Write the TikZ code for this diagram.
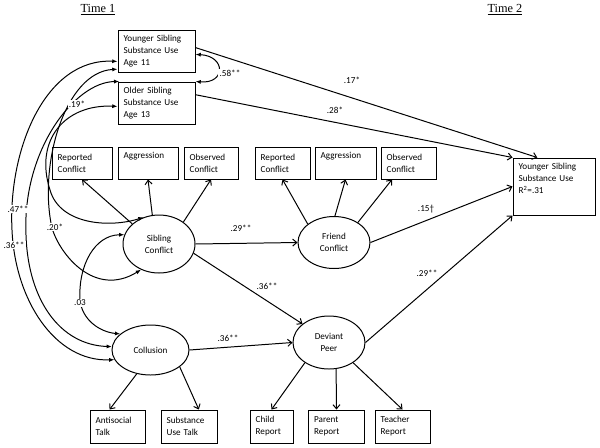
\documentclass[tikz,border=0pt]{standalone}
\usepackage{fontspec}
\setmainfont{Carlito}
\newfontfamily\timesfont{Liberation Serif}
\usetikzlibrary{shapes,arrows.meta}

\begin{document}
\begin{tikzpicture}[x=0.03cm,y=-0.03cm,line width=0.85pt,
	font=\fontsize{7.8}{10.2}\selectfont,
	obs/.style={draw,rectangle,align=left,inner xsep=0.17cm,inner ysep=0pt,text width=#1,minimum height=0.96cm},
	lat/.style={draw,ellipse,align=center,inner sep=0pt},
	reg/.style={-{Straight Barb[length=3.5pt,width=6pt]}},
	cov/.style={{Latex[length=4.5pt,width=3.5pt]}-{Latex[length=4.5pt,width=3.5pt]}},
	coef/.style={fill=white,inner sep=1pt},
	wave/.style={font=\timesfont\fontsize{10.5}{12}\selectfont}]
	\useasboundingbox (0,0) rectangle (600,447);
	\node[wave] (time1) at (98,10) {\underline{Time 1}};
	\node[wave] (time2) at (505,10) {\underline{Time 2}};
	% time 1 substance use
	\node[obs=1.97cm,minimum height=1.26cm] (ysub) at (156.5,51) {Younger Sibling\\Substance Use\\Age 11};
	\node[obs=1.97cm,minimum height=1.26cm] (osub) at (156.5,103) {Older Sibling\\Substance Use\\Age 13};
	% indicators
	\node[obs=1.46cm] (sRep) at (82,163) {Reported\\Conflict};
	\node[obs=1.46cm] (sAgg) at (148,163) {Aggression\\\strut};
	\node[obs=1.28cm] (sObs) at (211,163) {Observed\\Conflict};
	\node[obs=1.31cm] (fRep) at (282.5,163) {Reported\\Conflict};
	\node[obs=1.49cm] (fAgg) at (345.5,163) {Aggression\\\strut};
	\node[obs=1.31cm] (fObs) at (408.5,163) {Observed\\Conflict};
	\node[obs=1.31cm,minimum height=0.99cm] (anti) at (117.5,426.5) {Antisocial\\Talk};
	\node[obs=1.34cm,minimum height=0.99cm] (sut) at (189,426.5) {Substance\\Use Talk};
	\node[obs=0.95cm,minimum height=0.99cm] (child) at (271.5,426.5) {Child\\Report};
	\node[obs=1.34cm,minimum height=0.99cm] (parent) at (336.5,426.5) {Parent\\Report};
	\node[obs=1.31cm,minimum height=0.99cm] (teacher) at (402.5,426.5) {Teacher\\Report};
	% outcome
	\node[obs=2.12cm,minimum height=1.71cm] (ys2) at (554,186.5) {Younger Sibling\\Substance Use\\R\textsuperscript{2}=.31\\\strut};
	% latent
	\node[lat,minimum width=2.16cm,minimum height=1.74cm] (sc) at (159,244) {Sibling\\Conflict};
	\node[lat,minimum width=2.16cm,minimum height=1.56cm] (fc) at (334,242.5) {Friend\\Conflict};
	\node[lat,minimum width=2.31cm,minimum height=1.5cm] (col) at (150.5,350) {Collusion};
	\node[lat,minimum width=2.16cm,minimum height=1.59cm] (dp) at (329,342.5) {Deviant\\Peer};

	\draw[reg] (sc.143) -- (sRep.south);
	\draw[reg] (sc.103) -- (sAgg.south);
	\draw[reg] (sc.42) -- (sObs.south);
	\draw[reg] (fc.145) -- (fRep.south);
	\draw[reg] (fc.88) -- (fAgg.south);
	\draw[reg] (fc.40) -- (fObs.-135);
	\draw[reg] (col.-120) -- (anti.115);
	\draw[reg] (col.-30) -- (sut.60);
	\draw[reg] (dp.-140) -- (child.north);
	\draw[reg] (dp.-75) -- (parent.north);
	\draw[reg] (dp.-40) -- (teacher.north);

	\draw[reg] (ysub.5) -- (ys2.120);
	\draw[reg] (osub.12) -- (ys2.north west);
	\draw[reg] (sc.east) -- (fc.west);
	\draw[reg] (sc.-15) -- (dp.145);
	\draw[reg] (col.east) -- (dp.west);
	\draw[reg] (fc.east) -- (ys2.west);
	\draw[reg] (dp.east) -- (ys2.south west);

	% covariances
	\draw[cov] (ysub.-5) .. controls (226,56) and (226,84) .. (osub.north east);
	\draw[cov] (ysub.-165) .. controls (45,58) and (8,150) .. (12,230) .. controls (15,300) and (55,362) .. (col.195);
	\draw[cov] (osub.150) .. controls (75,82) and (22,150) .. (26,235) .. controls (28,300) and (60,345) .. (col.175);
	\draw[cov] (ysub.-155) .. controls (65,72) and (38,165) .. (52,228) .. controls (60,255) and (95,298) .. (sc.-125);
	\draw[cov] (osub.-175) .. controls (65,104) and (34,140) .. (50,190) .. controls (60,225) and (110,228) .. (sc.120);
	\draw[cov] (sc.165) .. controls (95,235) and (78,265) .. (80,300) .. controls (82,320) and (100,332) .. (col.152);

	\node[coef] (c58) at (230,73) {.58**};
	\node[coef] (c19) at (77,104) {.19*};
	\node[coef] (c47) at (18,209) {.47**};
	\node[coef] (c36a) at (14,245) {.36**};
	\node[coef] (c20) at (55,227) {.20*};
	\node[coef] (c03) at (80,303) {.03};
	\node[coef] (c17) at (352,80) {.17*};
	\node[coef] (c28) at (335,110) {.28*};
	\node[coef] (c29a) at (241,228) {.29**};
	\node[coef] (c15) at (426,209) {.15\textdagger};
	\node[coef] (c36b) at (267,286) {.36**};
	\node[coef] (c36c) at (228,338) {.36**};
	\node[coef] (c29b) at (427,273) {.29**};
\end{tikzpicture}
\end{document}
